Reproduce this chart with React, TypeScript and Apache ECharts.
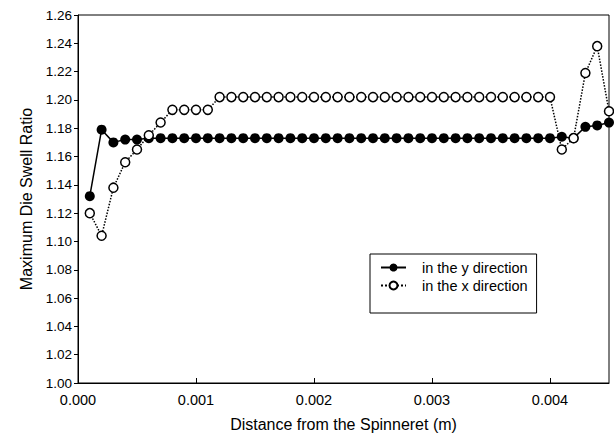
import React, { useEffect, useRef } from "react";
import * as echarts from "echarts";

const distances = [
  0.0001, 0.0002, 0.0003, 0.0004, 0.0005, 0.0006, 0.0007, 0.0008, 0.0009, 0.001,
  0.0011, 0.0012, 0.0013, 0.0014, 0.0015, 0.0016, 0.0017, 0.0018, 0.0019, 0.002,
  0.0021, 0.0022, 0.0023, 0.0024, 0.0025, 0.0026, 0.0027, 0.0028, 0.0029, 0.003,
  0.0031, 0.0032, 0.0033, 0.0034, 0.0035, 0.0036, 0.0037, 0.0038, 0.0039, 0.004,
  0.0041, 0.0042, 0.0043, 0.0044, 0.0045,
];

const yDirection = [
  1.132, 1.179, 1.170, 1.172, 1.172, 1.173, 1.173, 1.173, 1.173, 1.173,
  1.173, 1.173, 1.173, 1.173, 1.173, 1.173, 1.173, 1.173, 1.173, 1.173,
  1.173, 1.173, 1.173, 1.173, 1.173, 1.173, 1.173, 1.173, 1.173, 1.173,
  1.173, 1.173, 1.173, 1.173, 1.173, 1.173, 1.173, 1.173, 1.173, 1.173,
  1.174, 1.173, 1.181, 1.182, 1.184,
];

const xDirection = [
  1.120, 1.104, 1.138, 1.156, 1.165, 1.175, 1.184, 1.193, 1.193, 1.193,
  1.193, 1.202, 1.202, 1.202, 1.202, 1.202, 1.202, 1.202, 1.202, 1.202,
  1.202, 1.202, 1.202, 1.202, 1.202, 1.202, 1.202, 1.202, 1.202, 1.202,
  1.202, 1.202, 1.202, 1.202, 1.202, 1.202, 1.202, 1.202, 1.202, 1.202,
  1.165, 1.173, 1.219, 1.238, 1.192,
];

const seriesNames = ["in the y direction", "in the x direction"];
const xTitle = "Distance from the Spinneret (m)";
const yTitle = "Maximum Die Swell Ratio";

const FONT = "'Liberation Sans', Arial, sans-serif";

export default function App() {
  const ref = useRef<HTMLDivElement>(null);

  useEffect(() => {
    if (!ref.current) return;
    const chart = echarts.init(ref.current, null, { renderer: "svg" });
    const pairs = (vals: number[]) => distances.map((d, i) => [d, vals[i]]);
    chart.setOption({
      animation: false,
      backgroundColor: "#fff",
      textStyle: { fontFamily: FONT, color: "#000" },
      grid: {
        left: 78,
        right: 5,
        top: 15,
        bottom: 53,
        show: true,
        borderColor: "#000",
        borderWidth: 1,
        containLabel: false,
      },
      legend: {
        orient: "vertical",
        left: 370,
        top: 254,
        padding: [6, 9, 20, 10],
        itemGap: 3,
        itemWidth: 25,
        itemHeight: 10,
        borderColor: "#000",
        borderWidth: 1,
        backgroundColor: "#fff",
        textStyle: { fontFamily: FONT, fontSize: 14.5, color: "#000", padding: [0, 0, 0, 11] },
        data: seriesNames,
      },
      xAxis: {
        type: "value",
        min: 0,
        max: 0.0045,
        interval: 0.001,
        name: xTitle,
        nameLocation: "middle",
        nameGap: 33,
        nameTextStyle: { fontFamily: FONT, fontSize: 16, color: "#000" },
        axisLine: { show: true, lineStyle: { color: "#000", width: 1 } },
        axisTick: { show: true, inside: true, length: 5, lineStyle: { color: "#000" } },
        axisLabel: {
          fontFamily: FONT,
          fontSize: 14.5,
          color: "#000",
          margin: 9,
          showMaxLabel: false,
          formatter: (v: number) => v.toFixed(3),
        },
        splitLine: { show: false },
      },
      yAxis: {
        type: "value",
        min: 1.0,
        max: 1.26,
        interval: 0.02,
        name: yTitle,
        nameLocation: "middle",
        nameGap: 31,
        nameTextStyle: { fontFamily: FONT, fontSize: 16, color: "#000" },
        axisLine: { show: true, lineStyle: { color: "#000", width: 1 } },
        axisTick: { show: true, inside: false, length: 4, lineStyle: { color: "#000" } },
        axisLabel: {
          fontFamily: FONT,
          fontSize: 13.5,
          color: "#000",
          margin: 6,
          formatter: (v: number) => v.toFixed(2),
        },
        splitLine: { show: false },
      },
      series: [
        {
          name: seriesNames[0],
          type: "line",
          data: pairs(yDirection),
          clip: false,
          symbol: "circle",
          symbolSize: 10,
          itemStyle: { color: "#000", borderColor: "#000", borderWidth: 0 },
          lineStyle: { color: "#000", width: 1.5, type: "solid" },
        },
        {
          name: seriesNames[1],
          type: "line",
          data: pairs(xDirection),
          clip: false,
          symbol: "circle",
          symbolSize: 9,
          itemStyle: { color: "#fff", borderColor: "#000", borderWidth: 1.5 },
          lineStyle: { color: "#000", width: 1.5, type: "dotted" },
        },
      ],
    });
    return () => chart.dispose();
  }, []);

  return (
    <div
      ref={ref}
      style={{ position: "fixed", left: 0, top: 0, width: 614, height: 437, background: "#fff" }}
    />
  );
}
